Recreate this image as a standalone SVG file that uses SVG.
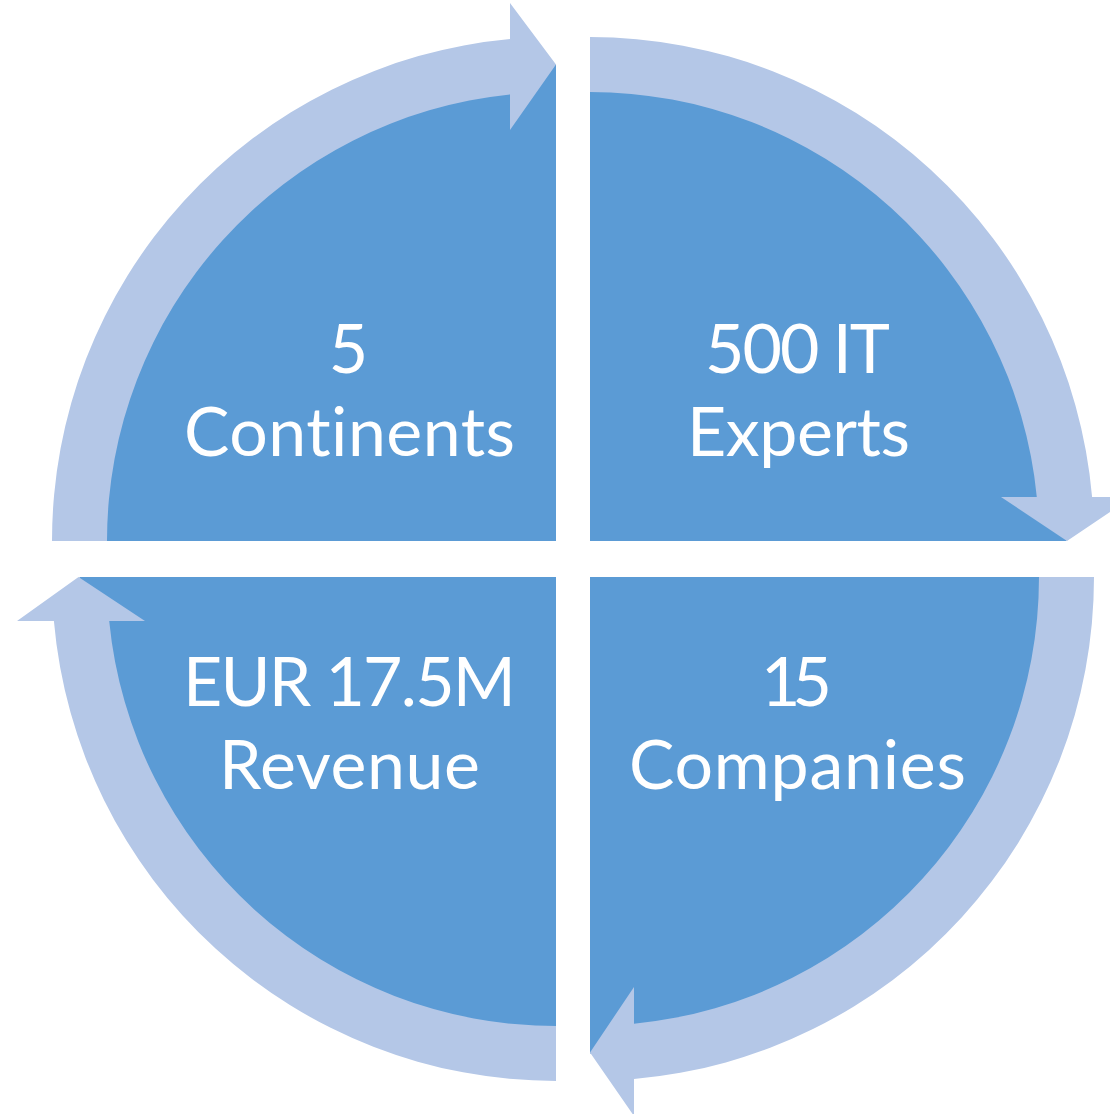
<svg xmlns="http://www.w3.org/2000/svg" width="1110" height="1114" viewBox="0 0 1110 1114">
<style>
.q{fill:#5B9BD5}
.a{fill:#B4C7E7}
.t{fill:#FFFFFF;font-family:Lato,"Open Sans","Liberation Sans",sans-serif;font-size:68px;text-anchor:middle;letter-spacing:1px;font-variant-ligatures:none;font-feature-settings:"liga" 0,"clig" 0,"dlig" 0,"calt" 0}
</style>
<rect width="1110" height="1114" fill="#FFFFFF"/>
<g id="node-continents">
<path class="q" d="M556 541 L79.5 541 A476.5 476.5 0 0 1 556 64.5 Z"/>
<text class="t" x="349" y="373">5</text>
<text class="t" x="350" y="456" textLength="332" lengthAdjust="spacing">Continents</text>
</g>
<g id="node-experts">
<path class="q" d="M590 541 L590 64.5 A476.5 476.5 0 0 1 1066.5 541 Z"/>
<text class="t" x="798" y="373" textLength="186" lengthAdjust="spacing">500 IT</text>
<text class="t" x="799" y="456" textLength="224" lengthAdjust="spacing">Experts</text>
</g>
<g id="node-companies">
<path class="q" d="M590 577 L1066.5 577 A476.5 476.5 0 0 1 590 1053.5 Z"/>
<text class="t" x="797" y="706" textLength="72" lengthAdjust="spacing">15</text>
<text class="t" x="798" y="789" textLength="338" lengthAdjust="spacing">Companies</text>
</g>
<g id="node-revenue">
<path class="q" d="M556 577 L556 1053.5 A476.5 476.5 0 0 1 79.5 577 Z"/>
<text class="t" x="350" y="706" textLength="334" lengthAdjust="spacing">EUR 17.5M</text>
<text class="t" x="350" y="789" textLength="262" lengthAdjust="spacing">Revenue</text>
</g>
<g id="connectors">
<path class="a" d="M52 541 A504 504 0 0 1 510 39.1 L510 3 L556 64.5 L510 130 L510 94.4 A449 449 0 0 0 107 541 Z"/>
<path class="a" d="M590 37 A504 504 0 0 1 1092.1 497 L1132 497 L1067 541 L1001 497 L1036.8 497 A449 449 0 0 0 590 92 Z"/>
<path class="a" d="M1094 577 A504 504 0 0 1 634 1079.1 L634 1116 L590 1052.5 L634 987 L634 1023.8 A449 449 0 0 0 1039 577 Z"/>
<path class="a" d="M556 1081 A504 504 0 0 1 53.9 621 L17 621 L78.5 577 L145 621 L109.2 621 A449 449 0 0 0 556 1026 Z"/>
</g>
</svg>
